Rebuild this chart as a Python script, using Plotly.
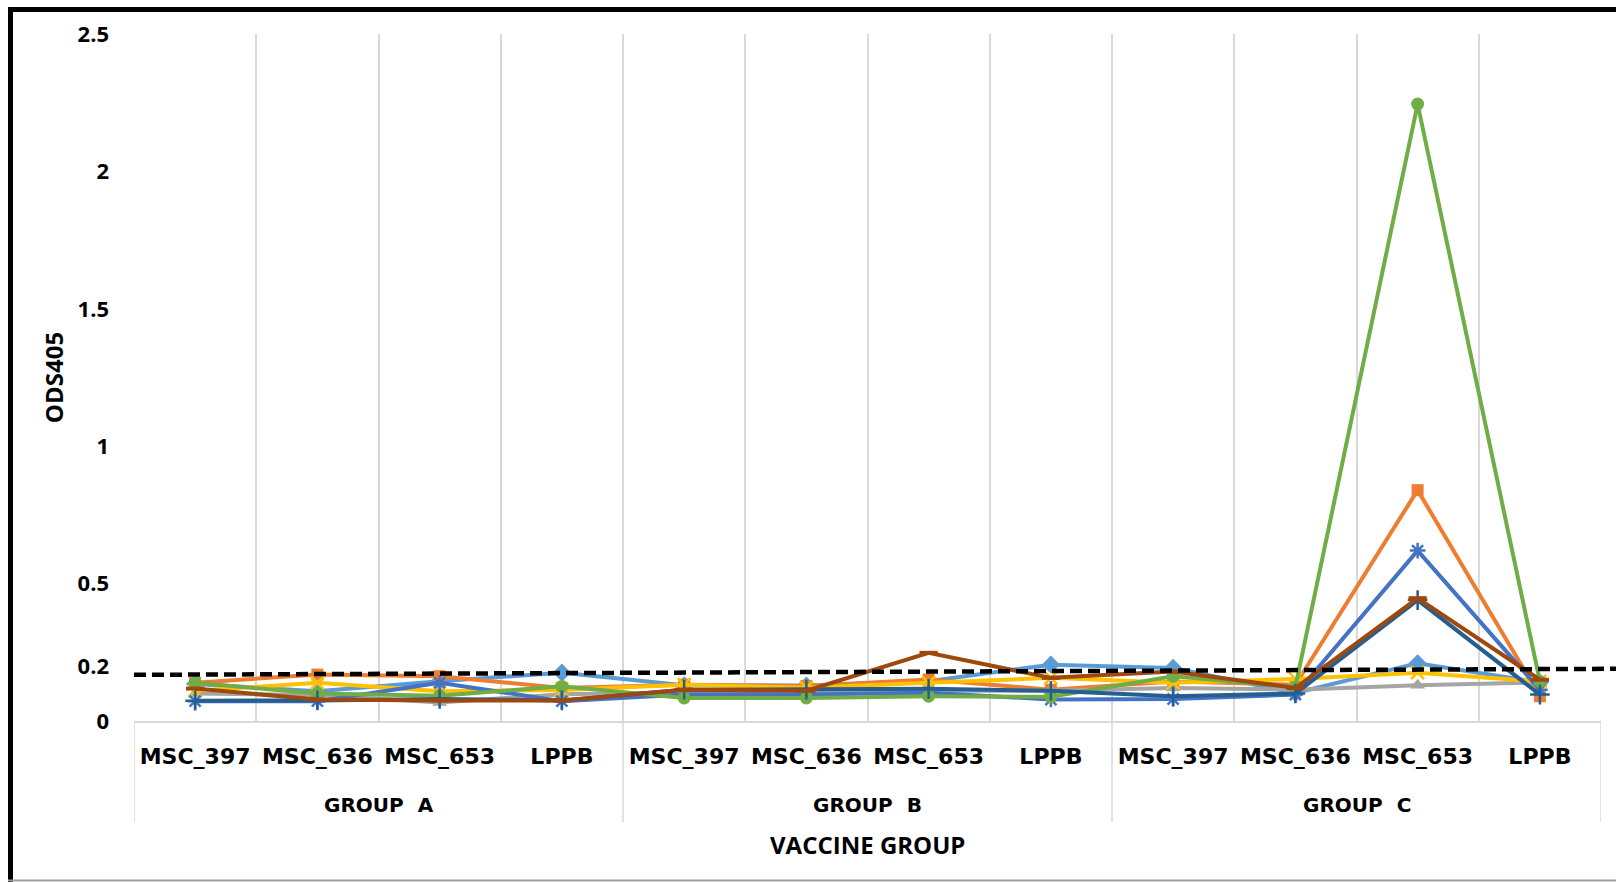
import plotly.graph_objects as go

# ---------------- data ----------------
groups = ["GROUP A"] * 4 + ["GROUP B"] * 4 + ["GROUP C"] * 4
categories = ["MSC_397", "MSC_636", "MSC_653", "LPPB"] * 3

s1_lightblue = [0.135, 0.108, 0.145, 0.176, 0.130, 0.129, 0.145, 0.205, 0.193, 0.102, 0.210, 0.140]
s2_orange    = [0.139, 0.169, 0.163, 0.120, 0.132, 0.127, 0.151, 0.114, 0.144, 0.132, 0.840, 0.090]
s3_gray      = [0.100, 0.095, 0.067, 0.097, 0.105, 0.103, 0.110, 0.110, 0.120, 0.114, 0.130, 0.140]
s4_yellow    = [0.110, 0.139, 0.108, 0.113, 0.132, 0.121, 0.139, 0.157, 0.139, 0.153, 0.176, 0.144]
s5_blue      = [0.072, 0.072, 0.139, 0.072, 0.096, 0.096, 0.103, 0.078, 0.080, 0.096, 0.620, 0.114]
s6_green     = [0.139, 0.100, 0.092, 0.126, 0.084, 0.084, 0.090, 0.088, 0.163, 0.124, 2.245, 0.144]
s7_darkblue  = [0.074, 0.075, 0.080, 0.075, 0.114, 0.114, 0.117, 0.110, 0.090, 0.100, 0.440, 0.096]
s8_brown     = [0.118, 0.078, 0.075, 0.075, 0.114, 0.110, 0.248, 0.157, 0.180, 0.120, 0.447, 0.150]

threshold = [0.168, 0.190]  # cut-off line, left end / right end

y_tickvals = [0, 0.2, 0.5, 1, 1.5, 2, 2.5]
y_ticktext = ["0", "0.2", "0.5", "1", "1.5", "2", "2.5"]

# ---------------- figure ----------------
W, H = 1616, 882
ML, MR, MT, MB = 134, 15, 34, 161
FONT = "Open Sans"
LABEL_FONT = "DejaVu Sans"
GRID = "#D9D9D9"

keys = [f"{g}|{c}" for g, c in zip(groups, categories)]

series = [
    (s1_lightblue, "#5B9BD5", dict(symbol="diamond", size=14)),
    (s2_orange,    "#ED7D31", dict(symbol="square", size=12)),
    (s3_gray,      "#A5A5A5", dict(symbol="triangle-up", size=13)),
    (s4_yellow,    "#FFC000", dict(symbol="x-thin-open", size=13, line=dict(width=2.5, color="#FFC000"))),
    (s5_blue,      "#4472C4", dict(symbol="asterisk-open", size=13, line=dict(width=2.5, color="#4472C4"))),
    (s6_green,     "#70AD47", dict(symbol="circle", size=13)),
    (s7_darkblue,  "#255E91", dict(symbol="cross-thin-open", size=14, line=dict(width=2.5, color="#255E91"))),
    (s8_brown,     "#9E480E", dict(symbol="line-ew-open", size=13, line=dict(width=4, color="#9E480E"))),
]

fig = go.Figure()
for vals, color, mk in series:
    mk = dict(mk)
    mk.setdefault("color", color)
    fig.add_trace(go.Scatter(
        x=keys, y=vals, mode="lines+markers",
        line=dict(color=color, width=4), marker=mk, showlegend=False,
        cliponaxis=False,
    ))

plot_w = W - ML - MR
plot_h = H - MT - MB


def px_x(px):
    return (px - ML) / plot_w


def px_y(py):
    return (H - MB - py) / plot_h


# threshold dashed line spanning the plot and beyond the right edge
fig.add_shape(type="line", xref="paper", yref="y", x0=0, x1=px_x(W + 2),
              y0=threshold[0], y1=threshold[1], layer="above",
              line=dict(color="black", width=4.5, dash="12px,6px"))

# group dividers and group labels (second level of the category axis)
group_names = []
for g in groups:
    if g not in group_names:
        group_names.append(g)
bounds = [-0.5]
for g in group_names:
    idx = [i for i, gg in enumerate(groups) if gg == g]
    bounds.append(idx[-1] + 0.5)
    fig.add_annotation(x=(idx[0] + idx[-1]) / 2, xref="x", y=px_y(805), yref="paper",
                       text=g.replace(" ", "\u00a0\u00a0"), showarrow=False,
                       yanchor="middle", xanchor="center",
                       font=dict(family=LABEL_FONT, size=20, weight="bold", color="black"))
for b in bounds:
    fig.add_shape(type="line", xref="x", yref="paper", x0=b, x1=b, y0=0, y1=px_y(822),
                  line=dict(color=GRID, width=1.5))

# axis title
fig.add_annotation(x=0.5, xref="paper", y=px_y(844), yref="paper", text="VACCINE GROUP",
                   showarrow=False, yanchor="middle", xanchor="center",
                   font=dict(family=FONT, size=24, weight="bold", color="black"))

# outer frame
fig.add_shape(type="line", xref="paper", yref="paper", x0=px_x(10.5), x1=px_x(10.5),
              y0=px_y(7), y1=px_y(H + 2), line=dict(color="black", width=5), layer="above")
fig.add_shape(type="line", xref="paper", yref="paper", x0=px_x(8), x1=px_x(W + 2),
              y0=px_y(9.5), y1=px_y(9.5), line=dict(color="black", width=5), layer="above")
fig.add_shape(type="line", xref="paper", yref="paper", x0=px_x(8), x1=px_x(W + 2),
              y0=px_y(880.5), y1=px_y(880.5), line=dict(color="#A0A0A0", width=2), layer="above")

fig.update_layout(
    width=W, height=H,
    margin=dict(l=ML, r=MR, t=MT, b=MB, autoexpand=False),
    paper_bgcolor="white", plot_bgcolor="white",
    font=dict(family=FONT, color="black"),
    xaxis=dict(
        type="category", range=[-0.5, len(keys) - 0.5],
        tickvals=keys, ticktext=categories,
        showgrid=True, gridcolor=GRID, gridwidth=1.5,
        tickson="boundaries", ticks="",
        showline=True, linecolor=GRID, linewidth=1.5,
        ticklabelstandoff=15,
        tickfont=dict(family=LABEL_FONT, size=22, weight="bold", color="black"),
        zeroline=False,
    ),
    yaxis=dict(
        range=[0, 2.5], tickvals=y_tickvals, ticktext=y_ticktext,
        showgrid=False, zeroline=False, showline=False, ticks="",
        ticklabelstandoff=24,
        tickfont=dict(family=FONT, size=22, weight="bold", color="black"),
        title=dict(text="ODS405", font=dict(family=FONT, size=24, weight="bold", color="black"),
                   standoff=7),
    ),
)

fig.write_html("out.html", config={"displayModeBar": False},
               post_script="document.body.style.margin='0';")
